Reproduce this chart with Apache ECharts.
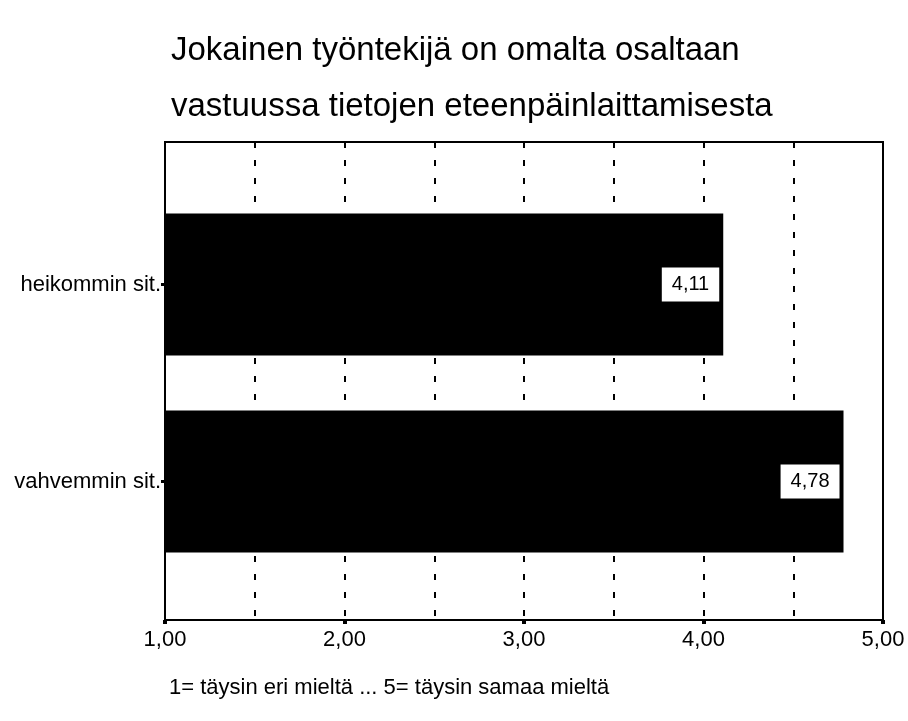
<!DOCTYPE html>
<html>
<head>
<meta charset="utf-8">
<script src="https://cdn.jsdelivr.net/npm/echarts@6/dist/echarts.min.js"></script>
<style>
  html, body { margin: 0; padding: 0; background: #fff; }
  #chart { width: 908px; height: 721px; }
</style>
</head>
<body>
<div id="chart"></div>
<script>
// Mean agreement scores per group (scale 1..5)
const categories = ['heikommin sit.', 'vahvemmin sit.'];
const values = [4.11, 4.78];
const tickLabels = ['1,00', '2,00', '3,00', '4,00', '5,00'];
const titleLines = ['Jokainen työntekijä on omalta osaltaan', 'vastuussa tietojen eteenpäinlaittamisesta'];
const footnote = '1= täysin eri mieltä ... 5= täysin samaa mieltä';

const FONT = '"Liberation Sans", Arial, Helvetica, sans-serif';
const chart = echarts.init(document.getElementById('chart'), null, { renderer: 'canvas' });

const titleStyle = { fontFamily: FONT, fontSize: 33, fontWeight: 'normal', color: '#000' };

chart.setOption({
  animation: false,
  backgroundColor: '#fff',
  title: [
    { text: titleLines[0], left: 166, top: 29, textStyle: titleStyle },
    { text: titleLines[1], left: 166, top: 85, textStyle: titleStyle },
    { text: footnote, left: 164, top: 672, textStyle: { fontFamily: FONT, fontSize: 22, fontWeight: 'normal', color: '#000' } }
  ],
  grid: [
    // framed plot area with the scale and dashed reference lines
    { left: 165, right: 25, top: 142, bottom: 101, show: true, borderColor: '#000', borderWidth: 2, backgroundColor: 'transparent' },
    // band that holds the two bars
    { left: 165, right: 25, top: 186, bottom: 141 }
  ],
  xAxis: [
    {
      // half-step reference lines
      gridIndex: 0, type: 'value', min: 1, max: 5, interval: 0.5, position: 'bottom',
      axisLine: { show: true, lineStyle: { color: '#000', width: 2 } },
      axisTick: { show: false },
      axisLabel: { show: false },
      splitLine: { show: true, lineStyle: { color: '#000', width: 2, type: [6, 12] } }
    },
    {
      // labelled whole-number scale
      gridIndex: 0, type: 'value', min: 1, max: 5, interval: 1, position: 'bottom',
      axisLine: { show: false },
      axisTick: { show: true, length: 4, lineStyle: { color: '#000', width: 4 } },
      axisLabel: {
        formatter: v => tickLabels[Math.round(v - 1)] || '',
        fontFamily: FONT, fontSize: 22, color: '#000', margin: 9,
        showMinLabel: true, showMaxLabel: true
      },
      splitLine: { show: false }
    },
    {
      gridIndex: 1, type: 'value', min: 1, max: 5,
      show: false, splitLine: { show: false }
    }
  ],
  yAxis: [
    { gridIndex: 0, type: 'value', show: false, splitLine: { show: false } },
    {
      gridIndex: 1, type: 'category', data: categories, inverse: true,
      axisLine: { show: false },
      axisTick: { show: true, alignWithLabel: true, length: 4, lineStyle: { color: '#000', width: 3 } },
      axisLabel: { fontFamily: FONT, fontSize: 22, color: '#000', margin: 4 }
    }
  ],
  series: [
    {
      type: 'bar', xAxisIndex: 2, yAxisIndex: 1,
      data: values,
      barWidth: 142,
      itemStyle: { color: '#000' },
      label: {
        show: true, position: 'insideRight', distance: 4,
        formatter: p => p.value.toFixed(2).replace('.', ','),
        backgroundColor: '#fff', color: '#000',
        fontFamily: FONT, fontSize: 20,
        padding: [8, 10, 6, 10]
      }
    }
  ]
});
</script>
</body>
</html>
